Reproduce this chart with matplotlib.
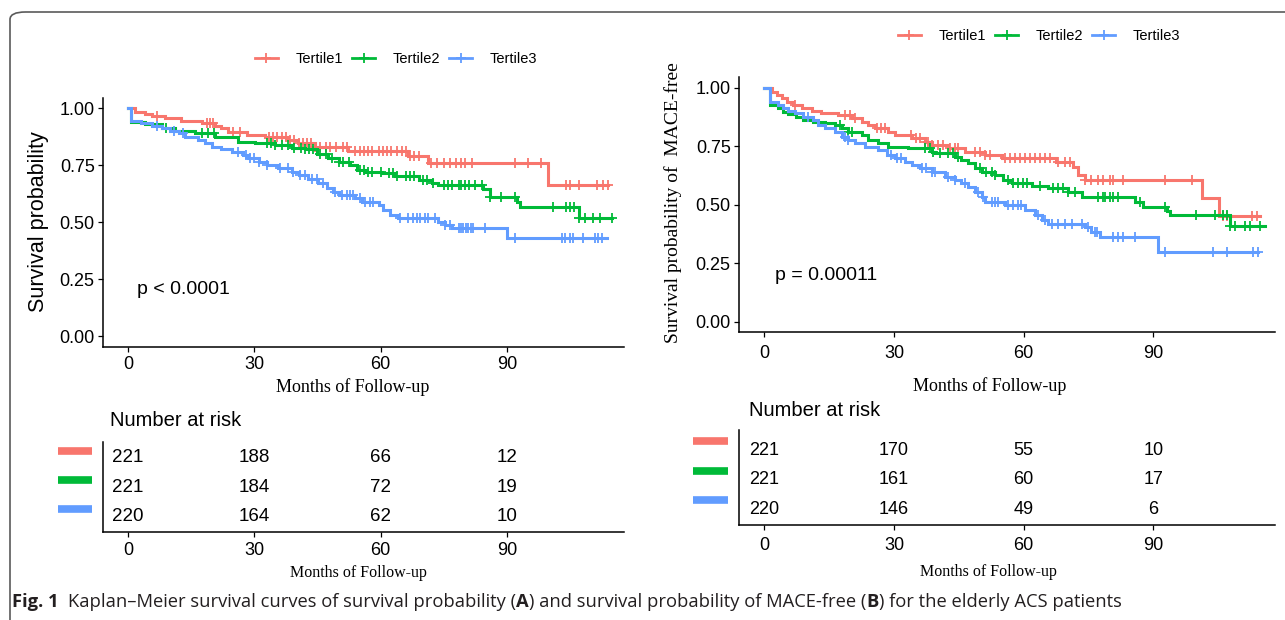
import numpy as np
import matplotlib
matplotlib.use("Agg")
import matplotlib.pyplot as plt
from matplotlib.lines import Line2D
from matplotlib.patches import FancyBboxPatch

W, H = 1285, 620
SANS = "Liberation Sans"
SERIF = "Liberation Serif"
plt.rcParams['font.family'] = [SANS, 'DejaVu Sans']

groups = ["Tertile1", "Tertile2", "Tertile3"]
colors = ["#F8766D", "#00BA38", "#619CFF"]
xticks = [0, 30, 60, 90]

# ---------------- Panel A: survival probability ----------------
a_red_t = [1.7, 4, 5.6, 8.8, 12.7, 17.5, 20.7, 22.2, 23.8, 28.2, 32.5, 38, 40.4, 44.4, 52.3, 66.5, 71.3, 99.8]
a_red_s = [0.984, 0.974, 0.965, 0.955, 0.944, 0.933, 0.921, 0.911, 0.896, 0.882, 0.871, 0.86, 0.845, 0.83, 0.81, 0.79, 0.757, 0.662]
a_red_end = 114
a_red_cens = [6.8, 18.7, 19.5, 20.3, 25, 26.6, 33.5, 34.5, 35.5, 36.5, 37.5, 38.5, 39.5, 40.5, 41.5, 42.5, 43.5, 44.5,
              45.5, 47, 48, 49.5, 51, 52, 54, 55, 56, 57, 58, 59.5, 60.5, 61.5, 62.5, 64, 65, 66, 67, 68, 69, 72,
              73.5, 75, 76.5, 78, 79, 80, 81.7, 92, 95, 98, 104, 105, 107, 111.5, 112.7, 114]

a_grn_t = [0.7, 4, 8, 11.2, 15.9, 20.7, 26.2, 30.2, 34.9, 38.9, 42, 44.8, 47.6, 50, 52.7, 54.3, 56.3, 60.3, 63.4,
           69, 72.1, 73.7, 84.4, 86, 92.3, 93.1, 107]
a_grn_s = [0.94, 0.93, 0.911, 0.901, 0.889, 0.874, 0.852, 0.845, 0.838, 0.823, 0.819, 0.80, 0.78, 0.765, 0.75, 0.728,
           0.72, 0.714, 0.70, 0.684, 0.67, 0.662, 0.643, 0.611, 0.589, 0.567, 0.516]
a_grn_end = 115
a_grn_cens = [9, 17.5, 19, 20.5, 33, 34, 35, 36.5, 38, 39.5, 41, 42, 43, 44, 45.5, 47, 48.5, 50, 51, 52.5, 55, 56, 57,
              58, 60, 62, 63, 64, 66, 67, 68, 70, 71, 72.5, 75, 76, 77, 78.5, 79, 80, 81, 82.5, 84, 86, 88.5, 92,
              101, 104, 105, 106, 107, 108.5, 110.5, 112, 115]

a_blu_t = [0.7, 3.2, 5.6, 8, 10, 12, 13.5, 16.7, 18.3, 19.9, 22.2, 24.6, 27.4, 28.6, 31, 32.9, 35.7, 38.9, 40.5,
           42.8, 45.2, 47.2, 48.8, 50, 53.9, 55.5, 59.5, 60.6, 62.2, 64.2, 73.7, 75.3, 76.9, 90]
a_blu_s = [0.944, 0.933, 0.921, 0.911, 0.90, 0.889, 0.871, 0.86, 0.845, 0.83, 0.819, 0.808, 0.794, 0.779, 0.765,
           0.75, 0.735, 0.72, 0.706, 0.69, 0.67, 0.648, 0.633, 0.618, 0.604, 0.589, 0.575, 0.553, 0.53, 0.516,
           0.501, 0.487, 0.472, 0.428]
a_blu_end = 113.7
a_blu_cens = [6.8, 11, 13, 26.2, 28, 29, 30, 31, 33, 36, 38.1, 39.3, 40.9, 42.1, 43.6, 44.8, 46.4, 49.2, 50.8, 51.9,
              52.7, 53.5, 55.1, 56.3, 57.5, 58.3, 64.6, 66.6, 67.8, 68.6, 69.4, 70.5, 71.3, 72.9, 75.3, 76.5, 78.5,
              79, 79.6, 80.2, 80.8, 81.5, 82, 84.8, 91.9, 103, 103.8, 105, 105.8, 108, 111, 111.7, 112.5]

a_risk = [[221, 188, 66, 12], [221, 184, 72, 19], [220, 164, 62, 10]]

# ---------------- Panel B: MACE-free ----------------
b_red_t = [1.7, 2.8, 4, 5.1, 6.7, 8.6, 10.9, 13.2, 17.1, 20.2, 22.5, 24, 25.6, 28.7, 30.2, 34.1, 37.2, 38.7, 42.5,
           46.4, 51, 54.9, 67.6, 71.5, 72.6, 74.2, 101.2, 105.2]
b_red_s = [0.984, 0.97, 0.956, 0.941, 0.927, 0.913, 0.903, 0.892, 0.885, 0.87, 0.856, 0.842, 0.828, 0.813, 0.799,
           0.785, 0.771, 0.756, 0.742, 0.728, 0.714, 0.70, 0.685, 0.664, 0.628, 0.607, 0.529, 0.453]
b_red_end = 114.7
b_red_cens = [7.1, 18.6, 19.8, 20.9, 26, 27, 28, 34, 35, 36, 37.2, 37.9, 38.7, 40.2, 41.4, 42.9, 44.1, 44.9, 48.7,
              49.9, 51, 52.2, 55.7, 56.8, 58, 59.1, 60.3, 61.5, 62.6, 63.8, 64.9, 66.1, 68, 69.6, 70.7, 74.2, 75.7,
              77.3, 78.4, 79.9, 80.7, 83.1, 92.7, 98.9, 106.2, 107, 112.8, 114]

b_grn_t = [1.3, 3.2, 4.4, 5.5, 7.4, 9, 11.3, 14, 16.3, 17.9, 19.4, 22.5, 24, 26.3, 28.7, 33.3, 38.7, 39.5, 44.1,
           45.6, 47.2, 48.7, 50.3, 53.4, 55.3, 57.2, 61.9, 65.7, 70.3, 73.4, 85.8, 87.7, 93.1, 93.9, 107.8]
b_grn_s = [0.927, 0.913, 0.899, 0.889, 0.875, 0.863, 0.856, 0.852, 0.842, 0.828, 0.813, 0.799, 0.778, 0.764, 0.749,
           0.742, 0.728, 0.721, 0.706, 0.692, 0.678, 0.657, 0.642, 0.628, 0.607, 0.593, 0.581, 0.571, 0.557, 0.536,
           0.514, 0.49, 0.476, 0.457, 0.41]
b_grn_end = 115.9
b_grn_cens = [17.5, 19.4, 20.2, 37.1, 38.3, 39.1, 40.6, 42.6, 43.7, 44.9, 49.9, 51.4, 52.6, 53.4, 56.4, 57.6, 58.8,
              59.9, 60.7, 63.8, 66.9, 68, 69.2, 70.3, 71.9, 77.3, 78.4, 78.8, 79.9, 80.7, 81.9, 86.9, 92.7, 100,
              104.3, 106.2, 107, 107.8, 108.9, 111.2, 112.4, 114.7]

b_blu_t = [1.3, 3.2, 4.4, 5.5, 7.1, 9, 11.3, 12.5, 14, 16.3, 17.9, 19.4, 20.9, 23.3, 26.3, 28.3, 30.2, 32.5, 34.1,
           36, 38.7, 41.8, 44.1, 45.6, 47.2, 48.7, 50.3, 51, 55.7, 60.3, 62.6, 64.2, 65.7, 74.2, 75.7, 77.7, 91.2]
b_blu_s = [0.941, 0.927, 0.913, 0.903, 0.892, 0.877, 0.863, 0.842, 0.828, 0.813, 0.792, 0.778, 0.764, 0.749, 0.735,
           0.714, 0.70, 0.685, 0.671, 0.657, 0.642, 0.621, 0.607, 0.593, 0.578, 0.557, 0.536, 0.514, 0.50, 0.479,
           0.457, 0.436, 0.419, 0.407, 0.386, 0.365, 0.30]
b_blu_end = 114.3
b_blu_cens = [10.1, 18.6, 19.4, 29.4, 30.6, 31.7, 36.4, 37.5, 38.7, 39.5, 42.6, 44.1, 46.4, 49.5, 50.7, 52.6,
              53.4, 54.1, 56.4, 57.6, 58.8, 59.5, 63.4, 64.9, 66.5, 68, 69.6, 71.1, 73.4, 75, 76.5, 76.9, 80.7,
              81.9, 83.1, 85.8, 92.7, 103.9, 107, 113.2, 114.3]

b_risk = [[221, 170, 55, 10], [221, 161, 60, 17], [220, 146, 49, 6]]

caption_parts = [("Fig. 1", "bold"), ("Kaplan–Meier survival curves of survival probability (", "normal"),
                 ("A", "bold"), (") and survival probability of MACE-free (", "normal"), ("B", "bold"),
                 (") for the elderly ACS patients", "normal")]


def fx(px):
    return px / W


def fy(py):
    return 1 - py / H


def add_axes_px(left, top, right, bottom):
    return fig.add_axes([fx(left), fy(bottom), (right - left) / W, (bottom - top) / H])


def km_draw(ax, t, s, end, cens, color):
    tt = np.concatenate([[0.0], np.asarray(t, float), [end]])
    ss = np.concatenate([[1.0], np.asarray(s, float), [s[-1]]])
    ax.step(tt, ss, where='post', color=color, lw=2.2, solid_joinstyle='miter', zorder=3)
    c = np.asarray(cens, float)
    idx = np.searchsorted(tt, c, side='right') - 1
    ax.plot(c, ss[idx], ls='none', marker='+', ms=7.5, mew=1.3, color=color, zorder=3)


def style_main(ax, xlim, ylim, xpad):
    for sp in ['top', 'right']:
        ax.spines[sp].set_visible(False)
    for sp in ['left', 'bottom']:
        ax.spines[sp].set_linewidth(1.1)
    ax.set_xlim(*xlim)
    ax.set_ylim(*ylim)
    ax.set_xticks(xticks)
    ax.set_yticks([0, 0.25, 0.5, 0.75, 1.0])
    ax.set_yticklabels(["0.00", "0.25", "0.50", "0.75", "1.00"])
    ax.tick_params(axis='both', length=3.5, width=0.9, labelsize=13, colors='black')
    ax.tick_params(axis='x', pad=xpad)
    ax.tick_params(axis='y', pad=2.5)
    ax.patch.set_alpha(0)


def risk_table(ax, xlim, ylim, risk, xpad, bar_dy, fs):
    for sp in ['top', 'right']:
        ax.spines[sp].set_visible(False)
    for sp in ['left', 'bottom']:
        ax.spines[sp].set_linewidth(1.1)
    ax.set_xlim(*xlim)
    ax.set_ylim(*ylim)
    ax.set_xticks(xticks)
    ax.set_yticks([])
    ax.tick_params(axis='x', length=3.5, width=0.9, labelsize=13, pad=xpad)
    n = len(risk)
    for i, row in enumerate(risk):
        yv = n - 1 - i
        for t0, v in zip(xticks, row):
            ax.text(t0, yv, str(v), ha='center', va='center', fontsize=fs)
        ax.plot([-0.086, -0.021], [yv + bar_dy] * 2, color=colors[i], lw=5.5,
                transform=ax.get_yaxis_transform(), clip_on=False, solid_capstyle='butt')
    ax.patch.set_alpha(0)


fig = plt.figure(figsize=(W / 100, H / 100), dpi=100)

# border
border = FancyBboxPatch((fx(10), fy(660)), (1320 - 10) / W, (660 - 12) / H,
                        boxstyle="round,pad=0,rounding_size=0.012", transform=fig.transFigure,
                        fill=False, edgecolor='#5a5a5a', lw=1.2)
fig.patches.append(border)

# ---- Panel A main ----
axA = add_axes_px(103, 98, 624, 347)
km_draw(axA, a_red_t, a_red_s, a_red_end, a_red_cens, colors[0])
km_draw(axA, a_grn_t, a_grn_s, a_grn_end, a_grn_cens, colors[1])
km_draw(axA, a_blu_t, a_blu_s, a_blu_end, a_blu_cens, colors[2])
style_main(axA, (-5.94, 117.8), (-0.048, 1.044), 3)
fig.text(fx(137), fy(290), "p < 0.0001", fontsize=14, va='center', ha='left')
fig.text(fx(39), fy(222), "Survival probability", rotation=90, fontsize=15.5, ha='center', va='center')
fig.text(fx(353), fy(387), "Months of Follow-up", family=SERIF, fontsize=13, ha='center', va='center')

# ---- Panel B main ----
axB = add_axes_px(739, 77, 1275, 332)
km_draw(axB, b_red_t, b_red_s, b_red_end, b_red_cens, colors[0])
km_draw(axB, b_grn_t, b_grn_s, b_grn_end, b_grn_cens, colors[1])
km_draw(axB, b_blu_t, b_blu_s, b_blu_end, b_blu_cens, colors[2])
style_main(axB, (-5.9, 118.2), (-0.043, 1.047), 6)
fig.text(fx(775), fy(275), "p = 0.00011", fontsize=14, va='center', ha='left')
fig.text(fx(673), fy(203), "Survival probability of  MACE-free", family=SERIF, rotation=90, fontsize=14,
         ha='center', va='center')
fig.text(fx(990), fy(386), "Months of Follow-up", family=SERIF, fontsize=13, ha='center', va='center')

# ---- legends ----
handles = [Line2D([], [], color=c, lw=2, marker='+', ms=7, mew=1.3) for c in colors]
fig.legend(handles, groups, loc='center', bbox_to_anchor=(fx(396), fy(59)), ncol=3, frameon=False,
           fontsize=10.5, handlelength=1.6, handletextpad=1.2, columnspacing=0.6)
fig.legend(handles, groups, loc='center', bbox_to_anchor=(fx(1039), fy(36)), ncol=3, frameon=False,
           fontsize=10.5, handlelength=1.6, handletextpad=1.2, columnspacing=0.6)

# ---- risk tables ----
tA = add_axes_px(103, 442, 624, 532)
risk_table(tA, (-5.94, 117.8), (-0.55, 2.55), a_risk, 4, 0.24, 13.5)
fig.text(fx(110), fy(420), "Number at risk", fontsize=14.5, ha='left', va='center')
fig.text(fx(358), fy(573), "Months of Follow-up", family=SERIF, fontsize=11.5, ha='center', va='center')

tB = add_axes_px(739, 430, 1275, 525)
risk_table(tB, (-5.9, 118.2), (-0.54, 2.68), b_risk, 5.5, 0.3, 13)
fig.text(fx(749), fy(410), "Number at risk", fontsize=14.5, ha='left', va='center')
fig.text(fx(988), fy(572), "Months of Follow-up", family=SERIF, fontsize=11.5, ha='center', va='center')

# ---- caption (mixed bold / regular pieces placed side by side) ----
renderer = fig.canvas.get_renderer()
cap_kw = dict(family='Open Sans', fontsize=13.25, va='center', ha='left', color='#231f20')


def text_w(s, weight):
    t = fig.text(0, 0, s, fontweight=weight, **cap_kw)
    w = t.get_window_extent(renderer).width
    t.remove()
    return w


space_w = text_w("x x", "normal") - text_w("xx", "normal")
xpos = 12.0
for k, (s, weight) in enumerate(caption_parts):
    if k == 1:
        xpos += 2 * space_w
    fig.text(fx(xpos), fy(602), s, fontweight=weight, **cap_kw)
    xpos += text_w(s, weight)

fig.savefig("out.png", dpi=100)
